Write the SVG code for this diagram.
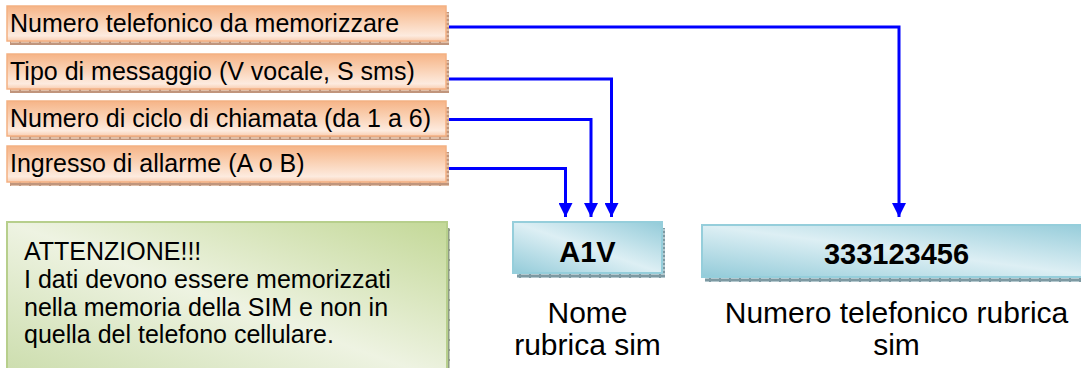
<svg xmlns="http://www.w3.org/2000/svg" width="1081" height="368" viewBox="0 0 1081 368">
  <defs>
    <!-- textured drop shadows -->
    <pattern id="texOrange" width="10" height="4" patternUnits="userSpaceOnUse">
      <rect width="10" height="4" fill="#c0957c"/>
      <rect x="1" y="1" width="8" height="2" fill="#e0bfa8"/>
    </pattern>
    <pattern id="texBlue" width="10" height="4" patternUnits="userSpaceOnUse">
      <rect width="10" height="4" fill="#7d99a2"/>
      <rect x="1" y="1" width="8" height="2" fill="#b4c8ce"/>
    </pattern>
    <pattern id="texGreen" width="4" height="10" patternUnits="userSpaceOnUse">
      <rect width="4" height="10" fill="#8f9c86"/>
      <rect x="1" y="1" width="2" height="8" fill="#c3cdb9"/>
    </pattern>
    <!-- box fills -->
    <linearGradient id="gOrange" x1="0" y1="0" x2="0" y2="1">
      <stop offset="0" stop-color="#f6b487"/>
      <stop offset="0.35" stop-color="#f9cbaa"/>
      <stop offset="0.85" stop-color="#fdebdf"/>
      <stop offset="1" stop-color="#f8cdb0"/>
    </linearGradient>
    <linearGradient id="gBlue" x1="0" y1="1" x2="1" y2="0">
      <stop offset="0" stop-color="#93cbd9"/>
      <stop offset="0.5" stop-color="#ddeff4"/>
      <stop offset="1" stop-color="#93cbd9"/>
    </linearGradient>
    <linearGradient id="gGreen" x1="0" y1="1" x2="1" y2="0">
      <stop offset="0" stop-color="#cadcaa"/>
      <stop offset="0.5" stop-color="#eef3e2"/>
      <stop offset="1" stop-color="#c3d897"/>
    </linearGradient>
    <marker id="arrow" viewBox="0 0 14 14" refX="14" refY="7" markerWidth="14" markerHeight="14" markerUnits="userSpaceOnUse" orient="auto">
      <path d="M0,0 L14,7 L0,14 Z" fill="#0000ff"/>
    </marker>
    <style>
      .src { fill: url(#gOrange); stroke: #f4b183; stroke-width: 1.5; }
      .srcShadow { fill: url(#texOrange); }
      .dst { fill: url(#gBlue); stroke: #95cedb; stroke-width: 2; }
      .dstShadow { fill: url(#texBlue); }
      .note { fill: url(#gGreen); stroke: #b7cf8c; stroke-width: 2; }
      .noteShadow { fill: url(#texGreen); }
      .t { font-family: "Liberation Sans", Arial, sans-serif; font-size: 25px; fill: #000; }
      .b { font-family: "Liberation Sans", Arial, sans-serif; font-size: 29px; font-weight: bold; fill: #000; text-anchor: middle; }
      .lbl { font-family: "Liberation Sans", Arial, sans-serif; font-size: 30px; fill: #000; text-anchor: middle; }
      .wire { fill: none; stroke: #0000ff; stroke-width: 3; marker-end: url(#arrow); }
    </style>
  </defs>

  <rect width="1081" height="368" fill="#ffffff"/>

  <!-- input fields -->
  <g id="numero-telefonico">
    <rect class="srcShadow" x="10" y="12" width="439" height="33"/>
    <rect class="src" x="7" y="6" width="439" height="35"/>
    <text class="t" x="10" y="32">Numero telefonico da memorizzare</text>
  </g>
  <g id="tipo-messaggio">
    <rect class="srcShadow" x="10" y="60" width="439" height="33"/>
    <rect class="src" x="7" y="54" width="439" height="35"/>
    <text class="t" x="10" y="80">Tipo di messaggio (V vocale, S sms)</text>
  </g>
  <g id="ciclo-chiamata">
    <rect class="srcShadow" x="10" y="107" width="439" height="33"/>
    <rect class="src" x="7" y="101" width="439" height="35"/>
    <text class="t" x="10" y="127">Numero di ciclo di chiamata (da 1 a 6)</text>
  </g>
  <g id="ingresso-allarme">
    <rect class="srcShadow" x="10" y="152" width="439" height="34"/>
    <rect class="src" x="7" y="146" width="439" height="36"/>
    <text class="t" x="10" y="172">Ingresso di allarme (A o B)</text>
  </g>

  <!-- warning note -->
  <g id="attenzione">
    <rect class="noteShadow" x="10" y="228" width="440" height="160"/>
    <rect class="note" x="7" y="222" width="440" height="160"/>
    <text class="t" x="24" y="260">ATTENZIONE!!!</text>
    <text class="t" x="24" y="288">I dati devono essere memorizzati</text>
    <text class="t" x="24" y="316">nella memoria della SIM e non in</text>
    <text class="t" x="24" y="343">quella del telefono cellulare.</text>
  </g>

  <!-- SIM phonebook name -->
  <g id="nome-rubrica">
    <rect class="dstShadow" x="517" y="228" width="148" height="50"/>
    <rect class="dst" x="513" y="222" width="149" height="51"/>
    <text class="b" x="587.5" y="262">A1V</text>
    <text class="lbl" x="587.5" y="323">Nome</text>
    <text class="lbl" x="587.5" y="355">rubrica sim</text>
  </g>

  <!-- SIM phonebook number -->
  <g id="numero-rubrica">
    <rect class="dstShadow" x="705" y="231" width="400" height="51"/>
    <rect class="dst" x="702" y="225" width="400" height="52"/>
    <text class="b" x="896.5" y="264">333123456</text>
    <text class="lbl" x="896.5" y="323">Numero telefonico rubrica</text>
    <text class="lbl" x="896.5" y="355">sim</text>
  </g>

  <!-- connectors -->
  <g id="connectors">
    <path class="wire" d="M449,27 H899 V217"/>
    <path class="wire" d="M449,79 H611.5 V217"/>
    <path class="wire" d="M449,119.5 H591 V217"/>
    <path class="wire" d="M449,168.5 H565.5 V217"/>
  </g>
</svg>
